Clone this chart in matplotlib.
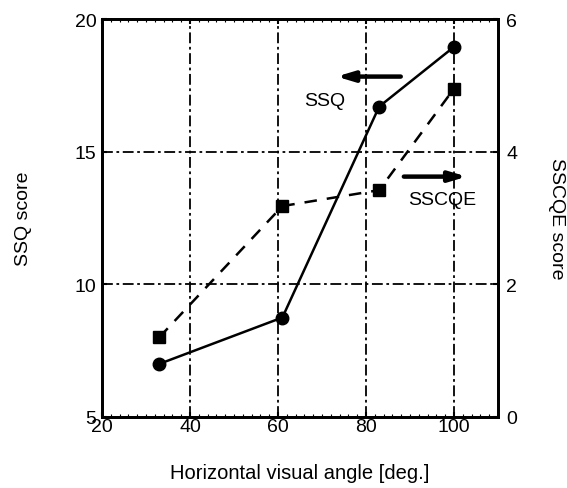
import numpy as np
import matplotlib
matplotlib.use('Agg')
from matplotlib import pyplot as plt
from matplotlib.ticker import MultipleLocator

plt.rcParams['font.family'] = ['Liberation Sans', 'DejaVu Sans']

# viewing angle vs. sickness scores
angle = [33, 61, 83, 100]
ssq = [7.0, 8.75, 16.7, 18.95]
sscqe = [1.2, 3.18, 3.42, 4.95]

fig = plt.figure(figsize=(5.67, 4.89), dpi=100)
ax = fig.add_axes([102/567, 1 - 418/489, 396/567, 398/489])
ax2 = ax.twinx()

ax.set_xlim(20, 110)
ax.set_ylim(5, 20)
ax2.set_ylim(0, 6)
ax.set_xticks([20, 40, 60, 80, 100])
ax.set_yticks([5, 10, 15, 20])
ax2.set_yticks([0, 2, 4, 6])
ax.xaxis.set_minor_locator(MultipleLocator(2))

ax.grid(True, color='black', linestyle=(0, (6, 2, 1.5, 2)), linewidth=1.3)
for a in (ax, ax2):
    for s in a.spines.values():
        s.set_linewidth(2)
ax.tick_params(which='both', direction='in', top=True, labelsize=14, width=1.5, pad=4)
ax.tick_params(which='minor', length=2, width=0.8)
ax.tick_params(axis='x', pad=1)
ax2.tick_params(direction='in', labelsize=14, width=1.5, pad=6)

ax.plot(angle, ssq, '-', color='black', lw=1.8, marker='o', ms=9, zorder=5)
ax2.plot(angle, sscqe, '--', color='black', lw=1.8, marker='s', ms=9,
         dashes=(5, 4), zorder=5)

# arrows pointing to the matching axis
arrow = dict(arrowstyle='-|>,head_length=1.0,head_width=0.3', lw=3.2, color='black',
             shrinkA=0, shrinkB=0)
ax.annotate('', xy=(73.3, 17.83), xytext=(87.9, 17.83), arrowprops=arrow)
ax.annotate('', xy=(102.9, 14.06), xytext=(88.6, 14.06), arrowprops=arrow)
ax.text(70.7, 16.92, 'SSQ', fontsize=14, ha='center', va='center')
ax.text(97.4, 13.18, 'SSCQE', fontsize=14, ha='center', va='center')

ax.set_xlabel('Horizontal visual angle [deg.]', fontsize=14.5, labelpad=20)
ax.set_ylabel('SSQ score', fontsize=14, labelpad=31)
ax2.set_ylabel('SSCQE score', fontsize=14, rotation=270, labelpad=34)

fig.savefig('out.png', dpi=100)
